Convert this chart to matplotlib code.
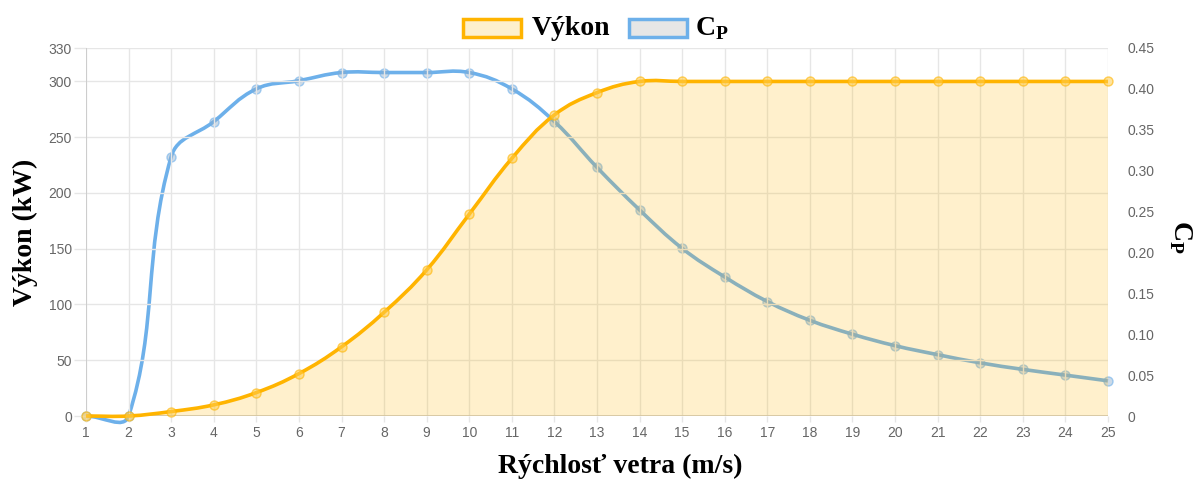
import numpy as np
import matplotlib
matplotlib.use('Agg')
import matplotlib.pyplot as plt
from matplotlib.path import Path
from matplotlib.patches import PathPatch, Rectangle

# data
wind_speed = list(range(1, 26))
power_kw = [0, 0, 4, 10, 21, 38, 62, 93, 131, 181, 231, 270, 290, 300,
            300, 300, 300, 300, 300, 300, 300, 300, 300, 300, 300]
cp = [0.0, 0.0, 0.317, 0.36, 0.40, 0.41, 0.42, 0.42, 0.42, 0.42, 0.40, 0.36,
      0.304, 0.252, 0.205, 0.17, 0.14, 0.117, 0.10, 0.086, 0.075, 0.065,
      0.057, 0.050, 0.043]
left_ticks = [0, 50, 100, 150, 200, 250, 300, 330]
right_ticks = [0, 0.05, 0.10, 0.15, 0.20, 0.25, 0.30, 0.35, 0.40, 0.45]
right_labels = ['0', '0.05', '0.10', '0.15', '0.20', '0.25', '0.30', '0.35', '0.40', '0.45']

ORANGE = '#FFB400'
FILL = '#FDF0CD'
BLUE = '#6DB0EA'
TICK_GRAY = '#666666'
GRID = '#E6E6E6'

W, H = 1199, 483
L, R, T, B = 86, 1108, 48, 416

plt.rcParams['mathtext.fontset'] = 'custom'
plt.rcParams['mathtext.rm'] = 'Liberation Serif:bold'
plt.rcParams['mathtext.bf'] = 'Liberation Serif:bold'


def spline_path(xs, ys, sx, sy, tension=0.4):
    """Chart.js style cubic bezier through points (distances in pixels)."""
    px = np.array(xs, float)
    py = np.array(ys, float)
    n = len(px)
    verts = [(px[0], py[0])]
    codes = [Path.MOVETO]
    cps = []
    for i in range(n):
        p0 = i - 1 if i > 0 else i
        p2 = i + 1 if i < n - 1 else i
        d01 = np.hypot((px[i] - px[p0]) * sx, (py[i] - py[p0]) * sy)
        d12 = np.hypot((px[p2] - px[i]) * sx, (py[p2] - py[i]) * sy)
        tot = d01 + d12
        s01 = d01 / tot if tot else 0
        s12 = d12 / tot if tot else 0
        fa, fb = tension * s01, tension * s12
        dx, dy = px[p2] - px[p0], py[p2] - py[p0]
        cps.append(((px[i] - fa * dx, py[i] - fa * dy),
                    (px[i] + fb * dx, py[i] + fb * dy)))
    for i in range(1, n):
        verts += [cps[i - 1][1], cps[i][0], (px[i], py[i])]
        codes += [Path.CURVE4] * 3
    return verts, codes


fig = plt.figure(figsize=(W / 100, H / 100), dpi=100)
ax = fig.add_axes([L / W, 1 - B / H, (R - L) / W, (B - T) / H])
ax2 = ax.twinx()
ax.set_zorder(ax2.get_zorder() + 1)
ax.patch.set_visible(False)

ax.set_xlim(1, 25)
ax.set_ylim(0, 330)
ax2.set_ylim(0, 0.45)

sx = (R - L) / 24
sy_left = (B - T) / 330
sy_right = (B - T) / 0.45

# Cp curve (behind)
v, c = spline_path(wind_speed, cp, sx, sy_right)
ax2.add_patch(PathPatch(Path(v, c), fill=False, edgecolor=BLUE, lw=2.6,
                        clip_on=False, zorder=3))
ax2.plot(wind_speed, cp, 'o', ms=6.5, mfc=(0.55, 0.68, 0.80, 0.45),
         mec=(0.43, 0.69, 0.92, 0.6), mew=1, clip_on=False, zorder=4)

# power curve with fill
v, c = spline_path(wind_speed, power_kw, sx, sy_left)
fill_v = v + [(25, 0), (1, 0), (1, 0)]
fill_c = c + [Path.LINETO, Path.LINETO, Path.CLOSEPOLY]
ax.add_patch(PathPatch(Path(fill_v, fill_c), facecolor=ORANGE, alpha=0.2,
                       edgecolor='none', zorder=2))
ax.add_patch(PathPatch(Path(v, c), fill=False, edgecolor=ORANGE, lw=2.6,
                       clip_on=False, zorder=3))
ax.plot(wind_speed, power_kw, 'o', ms=6.5, mfc=(1, 0.80, 0.30, 0.55),
        mec=(1, 0.71, 0, 0.6), mew=1, clip_on=False, zorder=4)

# grid and axes
ax.set_xticks(wind_speed)
ax.set_yticks(left_ticks)
ax2.set_yticks(right_ticks)
ax2.set_yticklabels(right_labels)
for a in (ax, ax2):
    for s in a.spines.values():
        s.set_visible(False)
ax.grid(True, color=GRID, lw=1, zorder=0)
ax.set_axisbelow(True)
ax.axvline(1, color='#C8C8C8', lw=1.2, zorder=1)
ax.axhline(0, color='#C8C8C8', lw=1.2, zorder=1)
ax.tick_params(axis='both', colors=GRID, labelcolor=TICK_GRAY, labelsize=10,
               length=9, width=1, labelfontfamily='Liberation Sans')
ax.tick_params(axis='y', pad=1)
ax.tick_params(axis='x', length=4, pad=3)
ax2.tick_params(axis='y', length=0, pad=14, labelcolor=TICK_GRAY, labelsize=10,
                labelfontfamily='Liberation Sans')

# axis titles
title_font = dict(family='Liberation Serif', weight='bold', size=20)
fig.text(620 / W, 1 - 466 / H, 'Rýchlosť vetra (m/s)', ha='center',
         va='center', **title_font)
fig.text(25 / W, 1 - 232 / H, 'Výkon (kW)', ha='center', va='center',
         rotation=90, **title_font)
fig.text(1180 / W, 1 - 237 / H, '$\\mathbf{C}_{\\mathbf{P}}$', ha='center',
         va='center', rotation=270, **title_font)

# legend
fig.patches.append(Rectangle((463 / W, 1 - 37 / H), 58 / W, 18 / H,
                             transform=fig.transFigure, facecolor=FILL,
                             edgecolor=ORANGE, lw=2.5))
fig.text(532 / W, 1 - 35 / H, 'Výkon', ha='left', va='baseline', **title_font)
fig.patches.append(Rectangle((629 / W, 1 - 37 / H), 58 / W, 18 / H,
                             transform=fig.transFigure, facecolor='#E6E6E6',
                             edgecolor=BLUE, lw=2.5))
fig.text(695 / W, 1 - 35 / H, '$\\mathbf{C}_{\\mathbf{P}}$', ha='left',
         va='baseline', **title_font)

fig.savefig('out.png', dpi=100)
